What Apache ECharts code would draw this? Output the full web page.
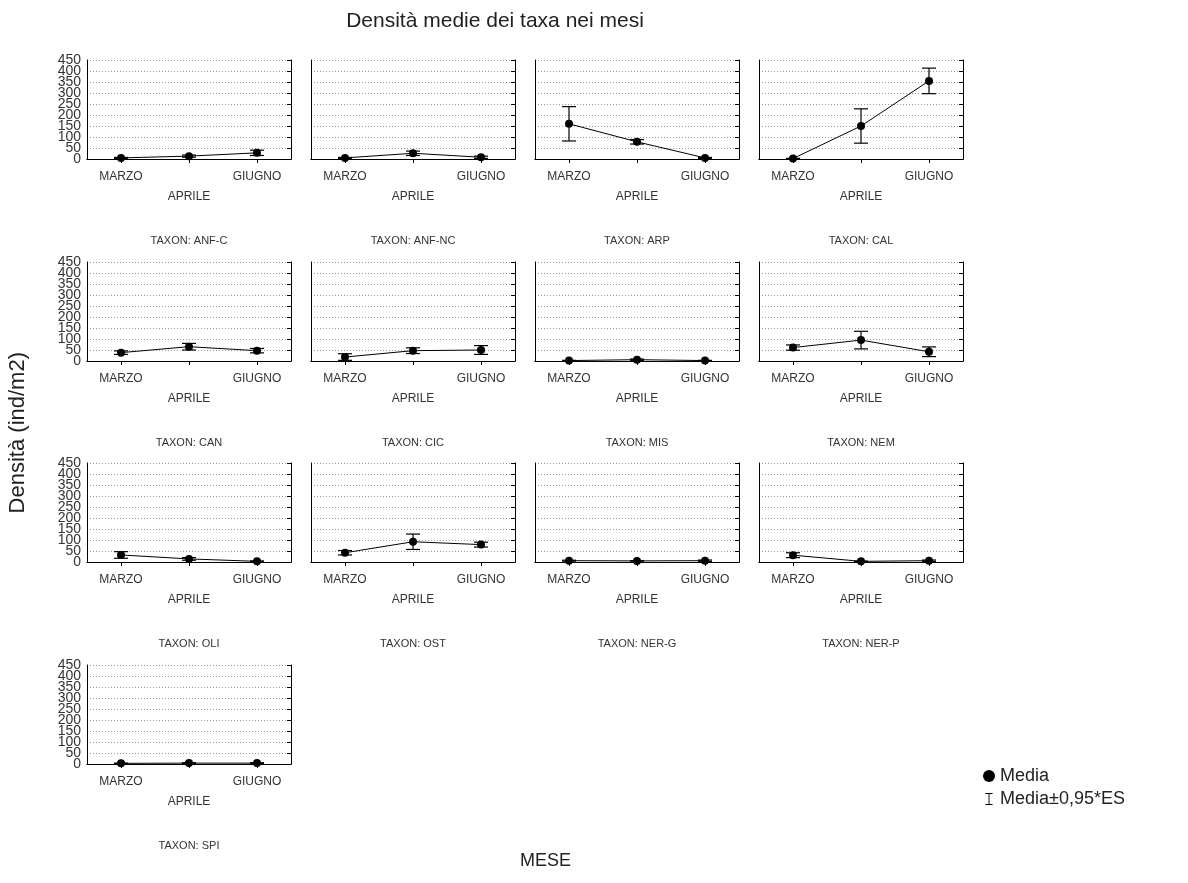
<!DOCTYPE html>
<html>
<head>
<meta charset="utf-8">
<script src="https://cdn.jsdelivr.net/npm/echarts@6/dist/echarts.min.js"></script>
<style>
html,body{margin:0;padding:0;background:#fff;}
#chart{width:1188px;height:883px;}
</style>
</head>
<body>
<div id="chart"></div>
<script>
// ---- data ----
const months = ['MARZO', 'APRILE', 'GIUGNO'];
const taxa = ['ANF-C', 'ANF-NC', 'ARP', 'CAL', 'CAN', 'CIC', 'MIS', 'NEM', 'OLI', 'OST', 'NER-G', 'NER-P', 'SPI'];
const meanMarzo  = [5, 5, 160, 2, 38, 18, 2, 61, 32, 42, 6, 31, 3];
const meanAprile = [13, 26, 78, 150, 65, 47, 6, 95, 14, 92, 5, 3, 4];
const meanGiugno = [28, 8, 5, 355, 47, 50, 2, 42, 3, 79, 6, 6, 4];
const errMarzo   = [2, 2, 78, 1, 8, 15, 1, 12, 15, 10, 2, 11, 1];
const errAprile  = [5, 10, 10, 78, 15, 13, 3, 40, 6, 35, 1, 1, 2];
const errGiugno  = [12, 5, 2, 58, 10, 20, 1, 22, 2, 11, 3, 3, 2];
const yMin = 0, yMax = 450, yStep = 50;
const yTicksA = [0, 100, 200, 300, 400];
const yTicksB = [50, 150, 250, 350, 450];

// ---- layout ----
const colLeft = [87, 311, 535, 759];
const rowTop = [60, 262, 463, 665];
const W = 204, H = 99;
const FONT = 'Liberation Sans, Arial, sans-serif';
const NARROW = 'Liberation Sans Narrow, Arial Narrow, Liberation Sans, sans-serif';

const grids = [], xAxes = [], yAxes = [], series = [];

function errRender(params, api) {
  const x = api.value(0);
  const p1 = api.coord([x, api.value(1)]);
  const p2 = api.coord([x, api.value(2)]);
  const hw = 7;
  const st = { stroke: '#000', lineWidth: 1.2 };
  return {
    type: 'group',
    children: [
      { type: 'line', shape: { x1: p1[0], y1: p1[1], x2: p2[0], y2: p2[1] }, style: st },
      { type: 'line', shape: { x1: p1[0] - hw, y1: p1[1], x2: p1[0] + hw, y2: p1[1] }, style: st },
      { type: 'line', shape: { x1: p2[0] - hw, y1: p2[1], x2: p2[0] + hw, y2: p2[1] }, style: st }
    ]
  };
}

const yLabelStyle = { fontSize: 14, color: '#333', fontFamily: NARROW, margin: 6,
  showMinLabel: true, showMaxLabel: true, hideOverlap: false };

taxa.forEach((t, i) => {
  const col = i % 4, row = Math.floor(i / 4);
  grids.push({ left: colLeft[col], top: rowTop[row], width: W, height: H, containLabel: false });
  const lineBlack = { show: true, lineStyle: { color: '#000', width: 1 } };
  xAxes.push({
    gridIndex: i, type: 'category', data: months, boundaryGap: true, position: 'bottom',
    axisLine: lineBlack, axisTick: { show: false },
    axisLabel: {
      interval: 0, fontSize: 12, color: '#333', fontFamily: FONT, margin: 8, lineHeight: 20,
      formatter: (v, idx) => idx === 1 ? '\n' + v : v
    },
    name: 'TAXON: ' + t, nameLocation: 'middle', nameGap: 76,
    nameTextStyle: { fontSize: 11, color: '#333', fontFamily: FONT }
  });
  xAxes.push({
    gridIndex: i, type: 'category', data: months, boundaryGap: true, position: 'top',
    axisLine: lineBlack, axisTick: { show: true, inside: true, length: 4, alignWithLabel: true, lineStyle: { color: '#000' } },
    axisLabel: { show: false }
  });
  // main y axis (data), labels 0,100,...
  yAxes.push({
    gridIndex: i, type: 'value', min: yMin, max: yMax, interval: yStep, position: 'left',
    axisLine: lineBlack, axisTick: { show: false },
    axisLabel: Object.assign({ show: col === 0, customValues: yTicksA }, yLabelStyle),
    splitLine: { show: true, lineStyle: { color: '#999', type: [1, 2], width: 1 } }
  });
  // right mirror axis with inside ticks
  yAxes.push({
    gridIndex: i, type: 'value', min: yMin, max: yMax, interval: yStep, position: 'right',
    axisLine: lineBlack, axisTick: { show: true, inside: true, length: 4, lineStyle: { color: '#000' } },
    axisLabel: { show: false }, splitLine: { show: false }
  });
  // label-only axis for 50,150,...
  yAxes.push({
    gridIndex: i, type: 'value', min: yMin, max: yMax, interval: yStep, position: 'left',
    axisLine: { show: false }, axisTick: { show: false }, splitLine: { show: false },
    axisLabel: Object.assign({ show: col === 0, customValues: yTicksB }, yLabelStyle)
  });
  const means = [meanMarzo[i], meanAprile[i], meanGiugno[i]];
  const errs = [errMarzo[i], errAprile[i], errGiugno[i]];
  series.push({
    name: 'Media', type: 'line', xAxisIndex: 2 * i, yAxisIndex: 3 * i,
    data: means, symbol: 'circle', symbolSize: 8, showSymbol: true,
    itemStyle: { color: '#000' }, lineStyle: { color: '#000', width: 1 }, z: 4
  });
  series.push({
    name: 'Media±0,95*ES', type: 'custom', xAxisIndex: 2 * i, yAxisIndex: 3 * i,
    renderItem: errRender, itemStyle: { color: '#000' },
    encode: { x: 0, y: [1, 2] },
    data: means.map((m, k) => [k, m - errs[k], m + errs[k]]), z: 3
  });
});

const chart = echarts.init(document.getElementById('chart'), null, { renderer: 'canvas' });
chart.setOption({
  animation: false,
  backgroundColor: '#fff',
  title: {
    text: 'Densità medie dei taxa nei mesi', left: 490, top: 6, textAlign: 'center',
    textStyle: { fontSize: 21, fontWeight: 'normal', color: '#222', fontFamily: FONT }
  },
  legend: {
    orient: 'vertical', left: 978, top: 762, itemGap: 5, itemWidth: 12, itemHeight: 12,
    textStyle: { fontSize: 18, color: '#222', fontFamily: FONT },
    data: [
      { name: 'Media', icon: 'circle' },
      { name: 'Media±0,95*ES', icon: 'path://M0,0H12V1.5H6.75V18.5H12V20H0V18.5H5.25V1.5H0Z' }
    ]
  },
  graphic: [
    { type: 'text', left: 7, top: 352, rotation: Math.PI / 2,
      style: { text: 'Densità (ind/m2)', fontSize: 22, fill: '#222', fontFamily: FONT } },
    { type: 'text', left: 520, top: 852,
      style: { text: 'MESE', fontSize: 18, fill: '#222', fontFamily: FONT } }
  ],
  grid: grids, xAxis: xAxes, yAxis: yAxes, series: series
});
</script>
</body>
</html>
